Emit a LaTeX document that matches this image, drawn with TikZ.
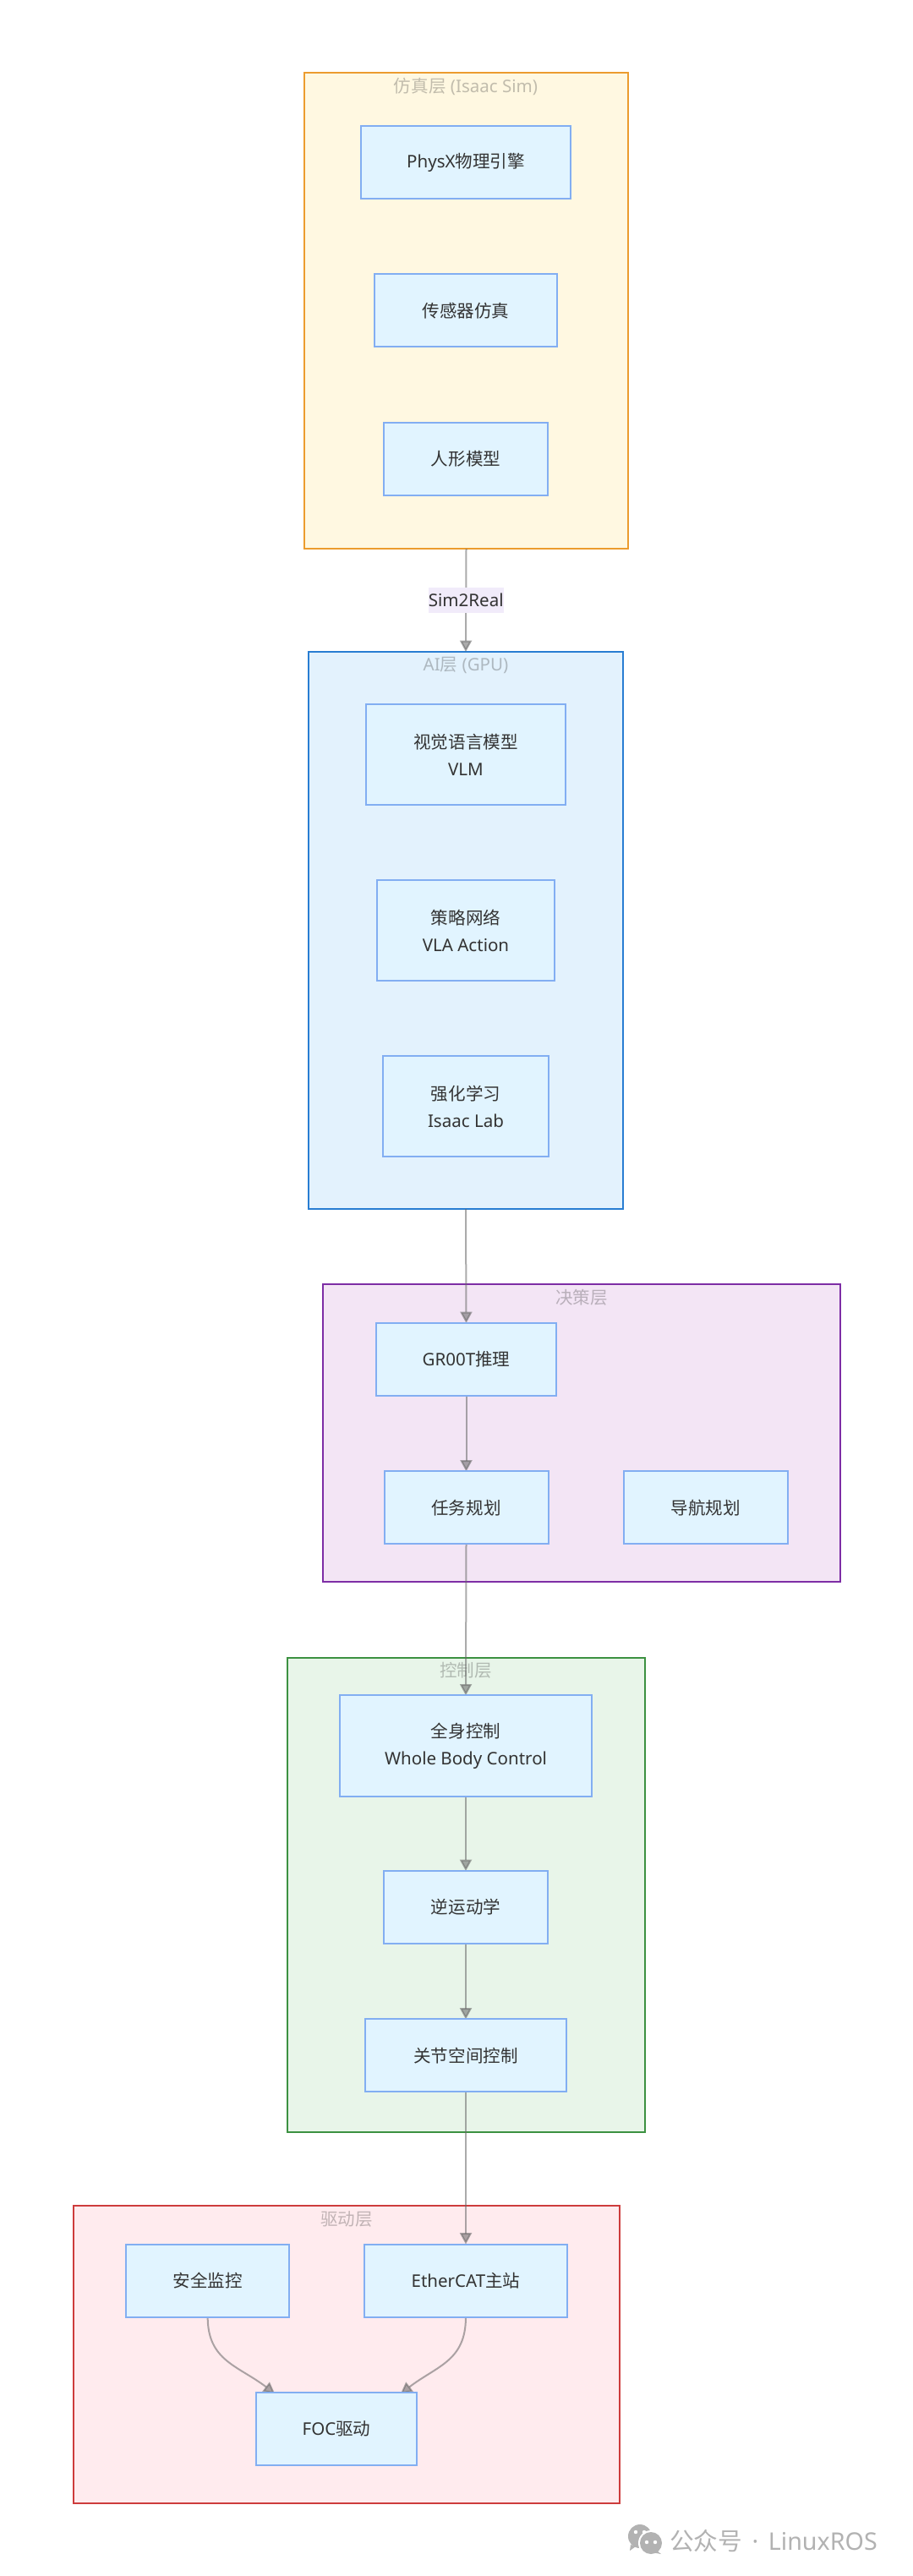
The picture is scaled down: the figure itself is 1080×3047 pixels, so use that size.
\documentclass[tikz,border=0pt]{standalone}
\usepackage{fontspec}
\usetikzlibrary{arrows.meta}
\setmainfont{Noto Sans}
\newfontfamily\cjk{Noto Sans CJK SC}
\newcommand{\zh}[1]{{\cjk #1}}
\pgfdeclarelayer{back}
\pgfdeclarelayer{edgelayer}
\pgfsetlayers{back,edgelayer,main}
\definecolor{boxfill}{HTML}{E1F4FF}
\definecolor{boxline}{HTML}{82AEF2}
\definecolor{inktext}{HTML}{333333}
\definecolor{labelfill}{HTML}{F1EBFA}
\definecolor{simfill}{HTML}{FFF8E1}
\definecolor{simline}{HTML}{EC9C2E}
\definecolor{aifill}{HTML}{E3F2FD}
\definecolor{ailine}{HTML}{287DD2}
\definecolor{planfill}{HTML}{F3E5F5}
\definecolor{planline}{HTML}{7D2DA5}
\definecolor{ctrlfill}{HTML}{E8F5E9}
\definecolor{ctrlline}{HTML}{3C9141}
\definecolor{drivefill}{HTML}{FFEBEE}
\definecolor{driveline}{HTML}{CD3C3C}

\begin{document}
\begin{tikzpicture}[x=0.75pt,y=-0.75pt,>={Triangle[length=10pt,width=10.5pt]},node distance=131.6pt,
    box/.style={rectangle,draw=boxline,fill=boxfill,line width=1.5pt,inner sep=0pt,outer sep=0pt,minimum height=64.5pt,text=inktext,align=center,font=\fontsize{15.4}{24}\selectfont},
    tallbox/.style={box,minimum height=89.5pt},
    cluster/.style={rectangle,line width=1.5pt,inner sep=0pt,outer sep=0pt},
    title/.style={text=inktext,text opacity=0.3,inner sep=0pt,font=\fontsize{15.4}{20}\selectfont},
    edge/.style={->,draw=black!60,line width=1.5pt,draw opacity=0.55,fill opacity=0.55},
    edgelabel/.style={fill=labelfill,draw=none,text=inktext,fill opacity=1,text opacity=1,inner sep=0pt,minimum width=64pt,minimum height=23pt,font=\fontsize{15.4}{20}\selectfont},
    wmtext/.style={text=black!30,inner sep=0pt,font=\fontsize{21.5}{26}\selectfont}]

    \begin{pgfonlayer}{back}
        \fill[white] (0,0) rectangle (1080,3047);
        \node[cluster, fill=simfill, draw=simline, minimum width=287.25pt, minimum height=422.25pt] (sim) at (551.5,367.5){};
        \node[cluster, fill=aifill, draw=ailine, minimum width=279pt, minimum height=494.25pt] (ai) at (551,1100.5){};
        \node[cluster, fill=planfill, draw=planline, minimum width=459pt, minimum height=264pt] (plan) at (688,1695){};
        \node[cluster, fill=ctrlfill, draw=ctrlline, minimum width=317.5pt, minimum height=421pt] (ctrl) at (551.5,2241.5){};
        \node[cluster, fill=drivefill, draw=driveline, minimum width=484.5pt, minimum height=264pt] (drive) at (410,2785){};

        \node[title] (simtitle) at (551,102){\zh{仿真层} (Isaac Sim)};
        \node[title] (aititle) at (551,787){AI\zh{层} (GPU)};
        \node[title] (plantitle) at (688,1535){\zh{决策层}};
        \node[title] (ctrltitle) at (551,1976){\zh{控制层}};
        \node[title] (drivetitle) at (410,2625){\zh{驱动层}};
    \end{pgfonlayer}

    \node[box, minimum width=186pt] (physx) at (551,192){PhysX\zh{物理引擎}};
    \node[box, minimum width=162pt] (sensor) [below of = physx]{\zh{传感器仿真}};
    \node[box, minimum width=146pt] (human) [below of = sensor]{\zh{人形模型}};

    \node[tallbox, minimum width=177pt] (vlm) at (551,892.5){\zh{视觉语言模型}\\VLM};
    \node[tallbox, minimum width=158pt] (policy) [below of = vlm, node distance=156pt]{\zh{策略网络}\\VLA Action};
    \node[tallbox, minimum width=147pt] (rl) [below of = policy, node distance=156pt]{\zh{强化学习}\\Isaac Lab};

    \node[box, minimum width=160pt] (groot) at (551.5,1608){GR00T\zh{推理}};
    \node[box, minimum width=145.5pt] (task) [below of = groot]{\zh{任务规划}};
    \node[box, minimum width=145.5pt] (nav) [right of = task, node distance=212.6pt]{\zh{导航规划}};

    \node[tallbox, minimum width=223.5pt] (wbc) at (551,2065){\zh{全身控制}\\Whole Body Control};
    \node[box, minimum width=145.5pt] (ik) at (551,2256){\zh{逆运动学}};
    \node[box, minimum width=179pt] (joint) [below of = ik]{\zh{关节空间控制}};

    \node[box, minimum width=180pt] (ecat) at (551,2697.5){EtherCAT\zh{主站}};
    \node[box, minimum width=145pt] (safety) [left of = ecat, node distance=229pt]{\zh{安全监控}};
    \node[box, minimum width=142.5pt] (foc) at (398,2873){FOC\zh{驱动}};

    \begin{pgfonlayer}{edgelayer}
        \draw[edge] (sim.south) to node[edgelabel] (simlabel) {Sim2Real} (ai.north);
        \draw[edge] (ai.south) to (groot.north);
        \draw[edge] (groot) to (task);
        \draw[edge] (task.south) to (wbc.north);
        \draw[edge] (wbc) to (ik);
        \draw[edge] (ik) to (joint);
        \draw[edge] (joint.south) to (ecat.north);
        \draw[edge, shorten >=-1.5pt] (safety.south) .. controls +(0,52) and +(-42,-32) .. (foc.150.5);
        \draw[edge, shorten >=-1.5pt] (ecat.south) .. controls +(0,52) and +(42,-32) .. (foc.29.5);
    \end{pgfonlayer}

    \fill[black!30] (757,3000) circle (14);
    \fill[black!30] (746,3010) -- (752,3012) -- (745,3017) -- cycle;
    \fill[white] (770,3008) circle (15);
    \fill[black!30] (770,3008) circle (13);
    \fill[black!30] (777,3017) -- (782,3021) -- (771,3019) -- cycle;
    \foreach \px/\py in {752/2995,762/2995,765/3007,775/3007}
        \fill[white] (\px,\py) circle (2.2);
    \node[wmtext, anchor=west] (wm) at (792,3005){\zh{公众号}\hspace{3pt} · \hspace{3pt}LinuxROS};
\end{tikzpicture}
\end{document}
